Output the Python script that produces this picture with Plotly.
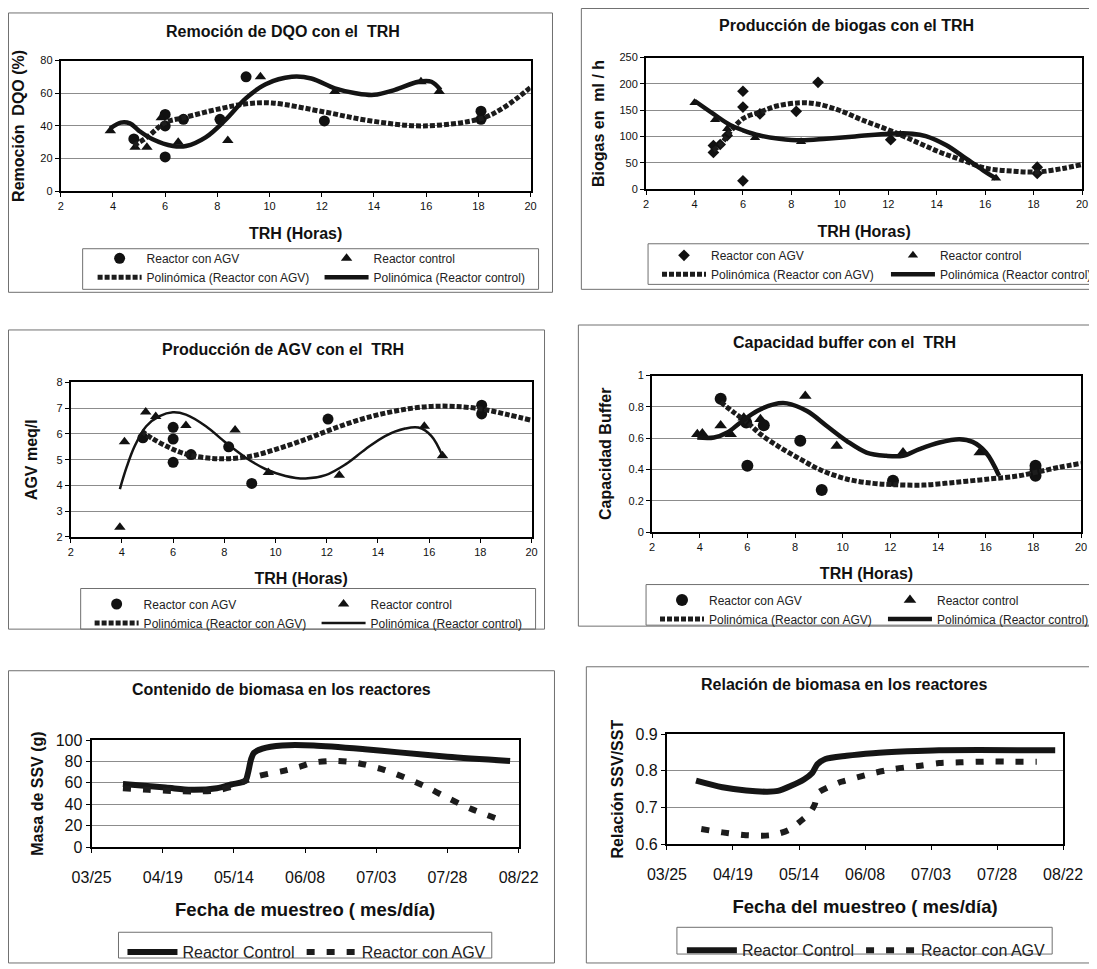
import plotly.graph_objects as go

W, H = 1089, 961          # figure size (page body adds an 8 px margin)
OFF = 8
FONT = "Liberation Sans, Arial, Helvetica, sans-serif"
INK = "#111111"
GRID = "#8c8c8c"
FRAME = "#707070"

# ---------------- Panel 1: Remoción de DQO ----------------
dqo_agv_x = [4.8, 6.0, 6.0, 6.0, 6.7, 8.1, 9.1, 12.1, 18.1, 18.1]
dqo_agv_y = [32, 47, 40, 21, 44, 44, 70, 43, 49, 44]
dqo_ctl_x = [3.9, 4.85, 5.3, 5.85, 6.5, 8.4, 9.65, 12.5, 15.8, 16.5]
dqo_ctl_y = [37, 27, 27, 45, 30, 31, 70, 61, 67, 61]
dqo_agv_fit_x = [4.8, 5.3, 6.0, 6.7, 8.1, 9.1, 10.1, 12.1, 13.9, 15.9, 18.1, 19.0, 20.0]
dqo_agv_fit_y = [28, 33, 42, 45, 50.5, 53.5, 54, 48.5, 43, 40, 44.5, 51.5, 63.5]
dqo_ctl_fit_x = [3.9, 4.3, 4.65, 5.0, 5.5, 6.3, 6.8, 7.55, 8.3, 9.1, 9.85, 10.85, 11.6,
                 12.5, 13.3, 14.0, 14.8, 15.7, 16.2, 16.55]
dqo_ctl_fit_y = [38.5, 42, 41.5, 37, 32, 27.7, 27.7, 33, 43.5, 57, 65.5, 70, 69,
                 63, 60, 59, 62, 67, 67, 62]

# ---------------- Panel 2: Producción de biogas ----------------
bio_agv_x = [4.78, 4.78, 5.06, 5.35, 6.0, 6.0, 6.0, 6.7, 8.2, 9.1, 12.1, 18.15, 18.15]
bio_agv_y = [83, 70, 85, 102, 186, 156, 16, 143, 148, 203, 94, 42, 30]
bio_ctl_x = [4.0, 4.85, 5.35, 6.5, 8.4, 12.5, 16.45]
bio_ctl_y = [164, 132, 115, 98, 90, 104, 21]
bio_agv_fit_x = [4.78, 5.06, 5.47, 6.0, 6.7, 7.4, 8.35, 9.05, 10.0, 10.95, 12.05, 13.15,
                 14.1, 15.07, 16.03, 17.13, 18.2, 19.2, 20.0]
bio_agv_fit_y = [74, 84, 109, 134, 146.5, 158, 164, 162, 149.5, 131, 112, 90,
                 71, 55, 40, 34.5, 33, 39.5, 47]
bio_ctl_fit_x = [4.0, 4.78, 5.47, 6.0, 6.7, 7.5, 8.4, 9.45, 10.7, 12.05, 13.0, 13.55,
                 14.4, 15.2, 15.9, 16.45]
bio_ctl_fit_y = [168, 143, 122, 112, 102, 96, 93, 96, 100.5, 105.5, 105.5, 101,
                 83.5, 58.5, 36.5, 20.5]

# ---------------- Panel 3: Producción de AGV ----------------
agv_agv_x = [4.82, 6.0, 6.0, 6.0, 6.7, 8.17, 9.07, 12.05, 18.05, 18.05]
agv_agv_y = [5.85, 6.26, 5.8, 4.9, 5.2, 5.5, 4.08, 6.58, 7.12, 6.78]
agv_ctl_x = [3.92, 4.1, 4.93, 5.32, 6.5, 8.42, 9.72, 12.49, 15.81, 16.52]
agv_ctl_y = [2.38, 5.7, 6.85, 6.68, 6.33, 6.15, 4.5, 4.4, 6.3, 5.15]
agv_agv_fit_x = [4.76, 5.21, 5.73, 6.25, 6.77, 7.54, 8.19, 9.1, 10.13, 11.17, 12.08,
                 13.11, 14.15, 15.19, 16.09, 17.0, 18.04, 19.07, 20.0]
agv_agv_fit_y = [6.11, 5.81, 5.53, 5.3, 5.15, 5.05, 5.04, 5.15, 5.44, 5.79, 6.14,
                 6.5, 6.78, 6.98, 7.07, 7.07, 6.97, 6.75, 6.53]
agv_ctl_fit_x = [3.92, 4.18, 4.5, 4.95, 5.47, 5.99, 6.5, 7.28, 8.06, 8.84, 9.62, 10.39,
                 11.17, 11.95, 12.73, 13.5, 14.28, 15.06, 15.58, 16.09, 16.52]
agv_ctl_fit_y = [3.86, 4.7, 5.53, 6.3, 6.69, 6.84, 6.75, 6.3, 5.66, 5.08, 4.63, 4.37,
                 4.27, 4.4, 4.82, 5.4, 5.92, 6.21, 6.25, 5.92, 5.15]

# ---------------- Panel 4: Capacidad buffer ----------------
buf_agv_x = [4.88, 6.0, 5.95, 6.69, 8.22, 9.12, 12.11, 18.09, 18.09, 18.09]
buf_agv_y = [0.852, 0.424, 0.70, 0.682, 0.583, 0.269, 0.328, 0.424, 0.36, 0.40]
buf_ctl_x = [3.9, 4.11, 4.88, 5.3, 5.85, 6.55, 8.43, 9.75, 12.53, 15.75]
buf_ctl_y = [0.625, 0.63, 0.68, 0.625, 0.73, 0.72, 0.87, 0.55, 0.508, 0.508]
buf_agv_fit_x = [4.88, 5.44, 6.0, 6.55, 7.38, 8.22, 9.05, 10.16, 11.28, 12.11, 13.36,
                 14.75, 16.14, 17.25, 18.09, 19.06, 20.0]
buf_agv_fit_y = [0.83, 0.763, 0.70, 0.625, 0.54, 0.466, 0.398, 0.339, 0.311, 0.303, 0.30,
                 0.318, 0.339, 0.356, 0.381, 0.413, 0.439]
buf_ctl_fit_x = [3.9, 4.6, 5.16, 5.71, 6.41, 7.1, 7.66, 8.5, 9.33, 10.16, 11.0, 11.83,
                 12.53, 13.22, 14.06, 14.9, 15.45, 16.01, 16.56]
buf_ctl_fit_y = [0.604, 0.604, 0.636, 0.70, 0.773, 0.816, 0.822, 0.773, 0.678, 0.583,
                 0.508, 0.487, 0.487, 0.53, 0.572, 0.593, 0.576, 0.508, 0.36]

# ---------------- Panel 5: Contenido de biomasa ----------------
mas_ctl_dates = ["2003-04-05", "2003-04-20", "2003-04-29", "2003-05-08", "2003-05-13",
                 "2003-05-18", "2003-05-19", "2003-05-20", "2003-05-21", "2003-05-24",
                 "2003-05-31", "2003-06-11", "2003-06-29", "2003-07-11", "2003-07-28",
                 "2003-08-19"]
mas_ctl_vals = [59, 55.7, 53.5, 55, 58.5, 62, 70, 82, 88, 92, 95, 95, 91.5, 88.5, 84.5, 80.5]
mas_agv_dates = ["2003-04-05", "2003-04-14", "2003-04-22", "2003-04-30", "2003-05-08",
                 "2003-05-14", "2003-05-18", "2003-05-22", "2003-05-26", "2003-05-31",
                 "2003-06-06", "2003-06-11", "2003-06-18", "2003-06-24", "2003-06-29",
                 "2003-07-06", "2003-07-13", "2003-07-20", "2003-07-28", "2003-08-05",
                 "2003-08-16"]
mas_agv_vals = [55, 53.5, 52.5, 52, 53, 57, 62, 66, 68.5, 71, 75, 79, 80.5, 79.5, 77,
                72, 65, 57, 46, 36, 25]

# ---------------- Panel 6: Relación de biomasa ----------------
rel_ctl_dates = ["2003-04-05", "2003-04-15", "2003-04-24", "2003-05-02", "2003-05-06",
                 "2003-05-11", "2003-05-16", "2003-05-19", "2003-05-21", "2003-05-24",
                 "2003-06-01", "2003-06-11", "2003-06-24", "2003-07-06", "2003-08-19"]
rel_ctl_vals = [0.773, 0.755, 0.746, 0.743, 0.745, 0.759, 0.777, 0.794, 0.818, 0.832,
                0.841, 0.848, 0.853, 0.856, 0.856]
rel_agv_dates = ["2003-04-07", "2003-04-15", "2003-04-23", "2003-04-30", "2003-05-04",
                 "2003-05-10", "2003-05-15", "2003-05-18", "2003-05-20", "2003-05-21",
                 "2003-05-25", "2003-05-30", "2003-06-05", "2003-06-12", "2003-06-19",
                 "2003-06-29", "2003-07-06", "2003-07-14", "2003-07-23", "2003-08-03",
                 "2003-08-12"]
rel_agv_vals = [0.641, 0.632, 0.625, 0.623, 0.625, 0.638, 0.665, 0.684, 0.709, 0.738,
                0.755, 0.770, 0.782, 0.795, 0.805, 0.814, 0.821, 0.823, 0.825, 0.825,
                0.825]

# ---------------- text ----------------
titles = ["Remoción de DQO con el  TRH", "Producción de biogas con el TRH",
          "Producción de AGV con el  TRH", "Capacidad buffer con el  TRH",
          "Contenido de biomasa en los reactores", "Relación de biomasa en los reactores"]
ytitles = ["Remoción  DQO (%)", "Biogas en  ml / h", "AGV meq/l", "Capacidad Buffer",
           "Masa de SSV (g)", "Relación SSV/SST"]
xtitle_trh = "TRH (Horas)"
xtitles_date = ["Fecha de muestreo ( mes/día)", "Fecha del muestreo ( mes/día)"]
leg_agv = "Reactor con AGV"
leg_ctl = "Reactor control"
leg_agv_fit = "Polinómica (Reactor con AGV)"
leg_ctl_fit = "Polinómica (Reactor control)"
leg_ctl_big = "Reactor Control"


def fx(px):
    return (px - OFF) / W


def fy(py):
    return 1 - (py - OFF) / H


fig = go.Figure()

# layout geometry in page pixels: plot area, outer frame, title, legend box, legend columns
geo = [
    dict(plot=(61, 533, 61, 193), outer=(8.5, 555, 13, 295), title=(284, 32),
         lbox=(83, 541, 251, 292), lcol=(93, 321), ltop=246, ystand=12),
    dict(plot=(649, 1087, 58, 191), outer=(584, 1099, 8.5, 292), title=(850, 26),
         lbox=(651, 1099, 246, 287), lcol=(660, 890), ltop=243, ystand=11),
    dict(plot=(71, 534, 386, 542), outer=(8.5, 547, 333, 635), title=(284, 353),
         lbox=(81, 538, 594, 635), lcol=(90, 318), ltop=595, ystand=15),
    dict(plot=(655, 1086, 379, 537), outer=(581, 1099, 328, 632), title=(848, 346),
         lbox=(649, 1099, 590, 631), lcol=(658, 887), ltop=591, ystand=13),
    dict(plot=(92, 521, 747, 855), outer=(8.5, 557, 677, 972), title=(283, 696),
         lbox=(119, 494, 941, 967), lcol=(123, 303), ltop=944, ystand=8),
    dict(plot=(670, 1068, 741, 852), outer=(589, 1099, 673, 972), title=(848, 691),
         lbox=(680, 1057, 936, 963), lcol=(685, 865), ltop=942, ystand=8),
]

top_sets = [
    (dqo_agv_x, dqo_agv_y, dqo_ctl_x, dqo_ctl_y, dqo_agv_fit_x, dqo_agv_fit_y,
     dqo_ctl_fit_x, dqo_ctl_fit_y, "circle", 11, 10, 4.5),
    (bio_agv_x, bio_agv_y, bio_ctl_x, bio_ctl_y, bio_agv_fit_x, bio_agv_fit_y,
     bio_ctl_fit_x, bio_ctl_fit_y, "diamond", 9, 9, 4.5),
    (agv_agv_x, agv_agv_y, agv_ctl_x, agv_ctl_y, agv_agv_fit_x, agv_agv_fit_y,
     agv_ctl_fit_x, agv_ctl_fit_y, "circle", 11, 10, 2.5),
    (buf_agv_x, buf_agv_y, buf_ctl_x, buf_ctl_y, buf_agv_fit_x, buf_agv_fit_y,
     buf_ctl_fit_x, buf_ctl_fit_y, "circle", 12, 11, 4.5),
]
yranges = [(0, 80, 20), (0, 250, 50), (2, 8, 1), (0, 1, 0.2)]

legend_layouts = {}
for i, s in enumerate(top_sets):
    ax = "" if i == 0 else str(i + 1)
    la = "legend" if i == 0 else "legend%d" % (2 * i + 1)
    lb = "legend%d" % (2 * i + 2)
    (ax_, ay_, cx_, cy_, afx, afy, cfx, cfy, sym, msize, tsize, cwidth) = s
    xa, ya = "x" + ax, "y" + ax
    fig.add_trace(go.Scatter(x=ax_, y=ay_, mode="markers", name=leg_agv, xaxis=xa, yaxis=ya,
                             marker=dict(symbol=sym, size=msize, color=INK), legend=la))
    fig.add_trace(go.Scatter(x=cx_, y=cy_, mode="markers", name=leg_ctl, xaxis=xa, yaxis=ya,
                             marker=dict(symbol="triangle-up", size=tsize, color=INK), legend=lb))
    fig.add_trace(go.Scatter(x=afx, y=afy, mode="lines", name=leg_agv_fit, xaxis=xa, yaxis=ya,
                             line=dict(color="#1c1c1c", width=5, dash="5px,2px",
                                       shape="spline", smoothing=1.0), legend=la))
    fig.add_trace(go.Scatter(x=cfx, y=cfy, mode="lines", name=leg_ctl_fit, xaxis=xa, yaxis=ya,
                             line=dict(color="#141414", width=cwidth, shape="spline",
                                       smoothing=1.0), legend=lb))
    g = geo[i]
    for lid, lx in ((la, g["lcol"][0]), (lb, g["lcol"][1])):
        legend_layouts[lid] = dict(x=fx(lx), y=fy(g["ltop"]), xanchor="left", yanchor="top",
                                   bgcolor="rgba(0,0,0,0)", borderwidth=0, itemwidth=44,
                                   tracegroupgap=0, traceorder="normal",
                                   font=dict(family=FONT, size=12, color="#222222"))

bottom_sets = [
    (mas_ctl_dates, mas_ctl_vals, mas_agv_dates, mas_agv_vals),
    (rel_ctl_dates, rel_ctl_vals, rel_agv_dates, rel_agv_vals),
]
for j, s in enumerate(bottom_sets):
    i = 4 + j
    ax = str(i + 1)
    xa, ya = "x" + ax, "y" + ax
    la = "legend%d" % (9 + 2 * j)
    lb = "legend%d" % (10 + 2 * j)
    cd, cv, ad, av = s
    fig.add_trace(go.Scatter(x=cd, y=cv, mode="lines", name=leg_ctl_big, xaxis=xa, yaxis=ya,
                             line=dict(color="#151515", width=6, shape="spline", smoothing=0.8),
                             legend=la))
    fig.add_trace(go.Scatter(x=ad, y=av, mode="lines", name=leg_agv, xaxis=xa, yaxis=ya,
                             line=dict(color="#1c1c1c", width=6, dash="8px,12px",
                                       shape="spline", smoothing=0.8), legend=lb))
    g = geo[i]
    for lid, lx in ((la, g["lcol"][0]), (lb, g["lcol"][1])):
        legend_layouts[lid] = dict(x=fx(lx), y=fy(g["ltop"]), xanchor="left", yanchor="top",
                                   bgcolor="rgba(0,0,0,0)", borderwidth=0, itemwidth=50,
                                   tracegroupgap=0, font=dict(family=FONT, size=16,
                                                              color="#222222"))

layout = dict(width=W, height=H, margin=dict(l=0, r=0, t=0, b=0),
              paper_bgcolor="white", plot_bgcolor="white", showlegend=True,
              font=dict(family=FONT, color=INK))
layout.update(legend_layouts)

shapes = []
annotations = []
for i, g in enumerate(geo):
    ax = "" if i == 0 else str(i + 1)
    x0, x1, y0, y1 = g["plot"]
    big = i >= 4
    tick_size = 16 if big else 11
    title_size = 16
    xaxis = dict(domain=[fx(x0), fx(x1)], anchor="y" + ax, showline=True, linecolor="black",
                 linewidth=2, mirror=True, ticks="outside", ticklen=4, tickcolor="black",
                 showgrid=False, zeroline=False, automargin=False,
                 tickfont=dict(family=FONT, size=tick_size, color=INK))
    yaxis = dict(domain=[fy(y1), fy(y0)], anchor="x" + ax, showline=True, linecolor="black",
                 linewidth=2, mirror=True, ticks="outside", ticklen=4, tickcolor="black",
                 showgrid=True, gridcolor=GRID, gridwidth=1, zeroline=False, automargin=False,
                 tickfont=dict(family=FONT, size=tick_size, color=INK),
                 title=dict(text=ytitles[i], standoff=g["ystand"],
                            font=dict(family=FONT, size=16, weight="bold", color=INK)))
    if not big:
        r0, r1, d = yranges[i]
        xaxis.update(range=[2, 20], dtick=2, tick0=2, ticklabelstandoff=0,
                     title=dict(text=xtitle_trh, standoff=16,
                                font=dict(family=FONT, size=16, weight="bold", color=INK)))
        yaxis.update(range=[r0, r1], dtick=d, tick0=r0)
    else:
        xaxis.update(type="date", range=["2003-03-25", "2003-08-22"], tick0="2003-03-25",
                     dtick=25 * 86400000, tickformat="%m/%d", ticklabelstandoff=11,
                     title=dict(text=xtitles_date[i - 4], standoff=18,
                                font=dict(family=FONT, size=18.5, weight="bold", color=INK)))
        if i == 4:
            yaxis.update(range=[0, 100], dtick=20, tick0=0)
        else:
            yaxis.update(range=[0.6, 0.9], dtick=0.1, tick0=0.6, tickformat=".1f")
    layout["xaxis" + ax] = xaxis
    layout["yaxis" + ax] = yaxis

    ox0, ox1, oy0, oy1 = g["outer"]
    shapes.append(dict(type="rect", xref="paper", yref="paper", x0=fx(ox0), x1=fx(ox1),
                       y0=fy(oy1), y1=fy(oy0), line=dict(color=FRAME, width=1), layer="below"))
    bx0, bx1, by0, by1 = g["lbox"]
    shapes.append(dict(type="rect", xref="paper", yref="paper", x0=fx(bx0), x1=fx(bx1),
                       y0=fy(by1), y1=fy(by0), line=dict(color=FRAME, width=1), layer="below"))
    tx, ty = g["title"]
    annotations.append(dict(text=titles[i], x=fx(tx), y=fy(ty), xref="paper", yref="paper",
                            xanchor="center", yanchor="middle", showarrow=False,
                            font=dict(family=FONT, size=title_size, weight="bold", color=INK)))

layout["shapes"] = shapes
layout["annotations"] = annotations
fig.update_layout(layout)
fig.write_html("out.html")
